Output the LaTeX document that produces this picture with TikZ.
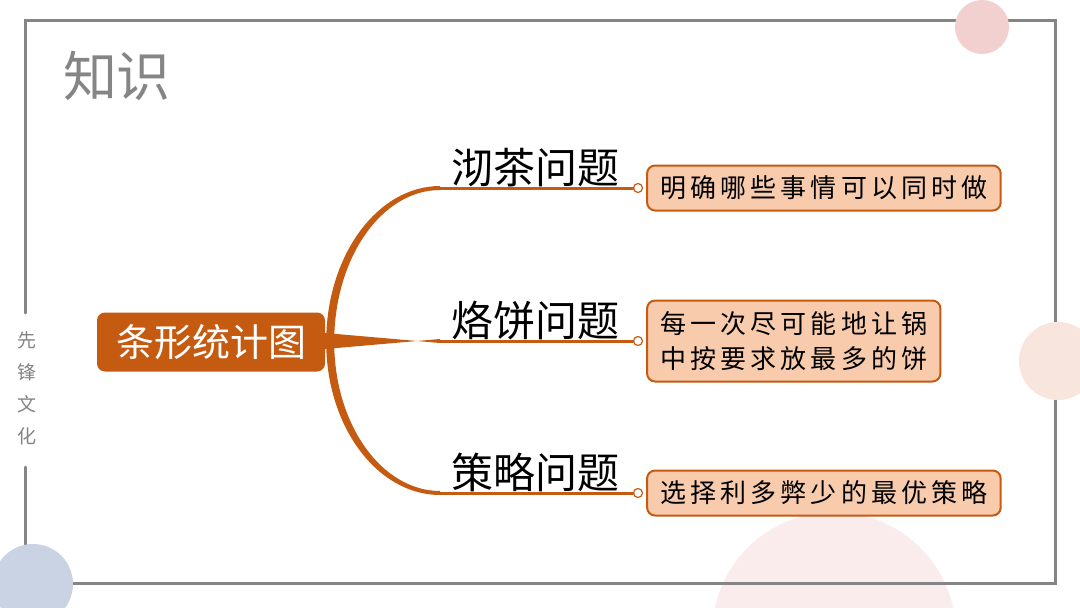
\documentclass[tikz,border=0pt]{standalone}
\usepackage{fontspec}
\newfontfamily\heiti{Noto Sans CJK SC}
\newfontfamily\kaiti[LetterSpace=16]{Noto Sans CJK SC}
\usetikzlibrary{positioning}

\begin{document}
\begin{tikzpicture}
  [x=1pt,y=-1pt,line cap=round,
   % Styles
   frame line/.style={draw=framegray,line width=3pt},
   title text/.style={text=framegray,inner sep=0pt,font=\heiti\fontsize{54}{54}\selectfont},
   side text/.style={text=framegray,inner sep=0pt,align=center,font=\heiti\fontsize{19}{32}\selectfont},
   root box/.style={rounded corners=8pt,fill=rootcolor,text=white,minimum width=228pt,
     minimum height=59pt,font=\heiti\fontsize{38}{38}\selectfont},
   topic text/.style={inner sep=0pt,font=\heiti\fontsize{42}{42}\selectfont},
   branch line/.style={draw=rootcolor,line width=3pt},
   knot/.style={circle,draw=rootcolor,fill=white,line width=1.2pt,minimum size=9pt,inner sep=0pt},
   leaf box/.style={draw=rootcolor,fill=leafcolor,line width=2pt,rounded corners=8pt,
     align=center,inner xsep=13pt,font=\kaiti\fontsize{26}{35}\selectfont}]

  % Colors
  \definecolor{rootcolor}{HTML}{C55A11}
  \definecolor{leafcolor}{HTML}{F8CBAD}
  \definecolor{framegray}{HTML}{858585}
  \definecolor{dotpink}{HTML}{F2D0D0}
  \definecolor{dotpeach}{HTML}{F8E6DE}
  \definecolor{dotpale}{HTML}{FAECEC}
  \definecolor{dotblue}{HTML}{C9D3E3}

  \useasboundingbox[fill=white] (0,0) rectangle (1080,608);

  % Background
  \fill[dotpale] (834,634) circle [radius=122pt];
  \draw[frame line] (25,313) -- (25,20) -- (1055,20) -- (1055,583) -- (25,583) -- (25,467);
  \fill[dotpink] (982,27) circle [radius=27pt];
  \fill[dotpeach] (1058,361) circle [radius=39pt];
  \fill[dotblue] (33,584) circle [radius=40pt];

  \node[title text] (title) at (117,76) {知识};
  \node[side text] (brand) at (27,388) {先\\锋\\文\\化};

  % The graphic
  \node[root box] (root) at (211,342) {条形统计图};

  \coordinate (e1) at (440,188);
  \coordinate (e2) at (440,341);
  \coordinate (e3) at (440,493);

  \fill[rootcolor] ([xshift=1pt]root.east)
    arc[start angle=180,end angle=90,x radius=114pt,y radius=156pt] -- ++(0,4)
    arc[start angle=90,end angle=180,x radius=106pt,y radius=152pt] -- cycle;
  \fill[rootcolor] ([xshift=1pt]root.east)
    arc[start angle=180,end angle=270,x radius=114pt,y radius=153pt] -- ++(0,-4)
    arc[start angle=270,end angle=180,x radius=106pt,y radius=149pt] -- cycle;
  \fill[rootcolor] ([yshift=-7pt]root.east) -- ([yshift=2pt]e2) -- ([yshift=-2pt]e2)
    -- ([yshift=9pt]root.east) -- cycle;

  \foreach \i/\y/\ttext in {1/188/沏茶问题, 2/341/烙饼问题, 3/493/策略问题}
  {
    \node[topic text,anchor=base west] (t\i) at (451,\y-5) {\ttext};
    \node[knot] (k\i) at (638,\y) {};
    \draw[branch line] (e\i) -- (k\i.west);
  }

  \node[leaf box,minimum height=45pt,anchor=west,right=3pt of k1] (b1) {明确哪些事情可以同时做};
  \node[leaf box,minimum height=81pt,anchor=west,right=3pt of k2] (b2) {每一次尽可能地让锅\\中按要求放最多的饼};
  \node[leaf box,minimum height=45pt,anchor=west,right=3pt of k3] (b3) {选择利多弊少的最优策略};
\end{tikzpicture}
\end{document}
